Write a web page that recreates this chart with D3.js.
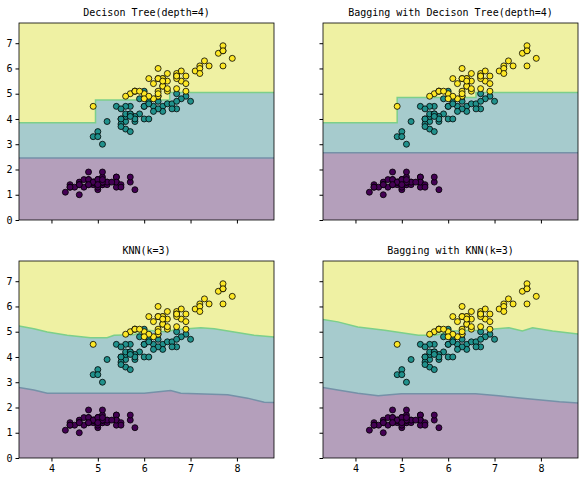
<!DOCTYPE html>
<html><head><meta charset="utf-8">
<script src="https://cdn.jsdelivr.net/npm/d3@7"></script>
<style>body{margin:0;background:#fff}text{font-family:"DejaVu Sans Mono",monospace}</style>
</head><body><svg id="c" width="584" height="480"></svg>
<script>
// iris: sepal length (x), petal length (y)
const sepal = [5.1,4.9,4.7,4.6,5.0,5.4,4.6,5.0,4.4,4.9,5.4,4.8,4.8,4.3,5.8,5.7,5.4,5.1,5.7,5.1,5.4,5.1,4.6,5.1,4.8,5.0,5.0,5.2,5.2,4.7,4.8,5.4,5.2,5.5,4.9,5.0,5.5,4.9,4.4,5.1,5.0,4.5,4.4,5.0,5.1,4.8,5.1,4.6,5.3,5.0,
  7.0,6.4,6.9,5.5,6.5,5.7,6.3,4.9,6.6,5.2,5.0,5.9,6.0,6.1,5.6,6.7,5.6,5.8,6.2,5.6,5.9,6.1,6.3,6.1,6.4,6.6,6.8,6.7,6.0,5.7,5.5,5.5,5.8,6.0,5.4,6.0,6.7,6.3,5.6,5.5,5.5,6.1,5.8,5.0,5.6,5.7,5.7,6.2,5.1,5.7,
  6.3,5.8,7.1,6.3,6.5,7.6,4.9,7.3,6.7,7.2,6.5,6.4,6.8,5.7,5.8,6.4,6.5,7.7,7.7,6.0,6.9,5.6,7.7,6.3,6.7,7.2,6.2,6.1,6.4,7.2,7.4,7.9,6.4,6.3,6.1,7.7,6.3,6.4,6.0,6.9,6.7,6.9,5.8,6.8,6.7,6.7,6.3,6.5,6.2,5.9];
const petal = [1.4,1.4,1.3,1.5,1.4,1.7,1.4,1.5,1.4,1.5,1.5,1.6,1.4,1.1,1.2,1.5,1.3,1.4,1.7,1.5,1.7,1.5,1.0,1.7,1.9,1.6,1.6,1.5,1.4,1.6,1.6,1.5,1.5,1.4,1.5,1.2,1.3,1.5,1.3,1.5,1.3,1.3,1.3,1.6,1.9,1.4,1.6,1.4,1.5,1.4,
  4.7,4.5,4.9,4.0,4.6,4.5,4.7,3.3,4.6,3.9,3.5,4.2,4.0,4.7,3.6,4.4,4.5,4.1,4.5,3.9,4.8,4.0,4.9,4.7,4.3,4.4,4.8,5.0,4.5,3.5,3.8,3.7,3.9,5.1,4.5,4.5,4.7,4.4,4.1,4.0,4.4,4.6,4.0,3.3,4.2,4.2,4.2,4.3,3.0,4.1,
  6.0,5.1,5.9,5.6,5.8,6.6,4.5,6.3,5.8,6.1,5.1,5.3,5.5,5.0,5.1,5.3,5.5,6.7,6.9,5.0,5.7,4.9,6.7,4.9,5.7,6.0,4.8,4.9,5.6,5.8,6.1,6.4,5.6,5.1,5.6,6.1,5.6,5.5,4.8,5.4,5.6,5.1,5.1,5.9,5.7,5.2,5.0,5.2,5.4,5.1];
const species = d3.range(150).map(i => Math.floor(i / 50));

const titles = ['Decison Tree(depth=4)', 'Bagging with Decison Tree(depth=4)', 'KNN(k=3)', 'Bagging with KNN(k=3)'];
// decision boundaries [x, y]: class0|class1 and class1|class2
const lowBounds = [
  [[3.3,2.45],[8.9,2.45]],
  [[3.3,2.66],[8.9,2.66]],
  [[3.3,2.79],[3.62,2.69],[3.91,2.56],[6.0,2.56],[6.57,2.67],[6.79,2.56],[7.8,2.5],[8.23,2.37],[8.59,2.21],[8.9,2.19]],
  [[3.3,2.79],[3.62,2.69],[4.05,2.56],[4.49,2.46],[4.99,2.54],[6.59,2.54],[7.09,2.46],[7.6,2.37],[8.4,2.23],[8.9,2.17]]
];
const highBounds = [
  [[3.3,3.85],[4.95,4.75],[6.55,5.05],[8.9,5.05]],
  [[3.3,3.85],[4.9,4.85],[6.6,5.05],[8.9,5.1]],
  [[3.3,5.23],[3.62,5.12],[3.91,4.99],[4.34,4.86],[4.84,4.76],[5.2,4.76],[5.35,4.86],[5.78,4.88],[6.07,5.06],[6.5,4.99],[6.65,5.08],[7.22,5.16],[7.51,5.12],[7.94,4.99],[8.37,4.86],[8.9,4.77]],
  [[3.3,5.48],[3.62,5.39],[4.05,5.19],[4.63,5.06],[5.36,4.86],[5.72,4.86],[6.08,5.03],[6.66,5.06],[7.31,5.16],[7.6,5.03],[7.82,5.16],[8.25,5.03],[8.9,4.89]]
];
const stepped = [true, true, false, false];
const xTicks = [4,5,6,7,8], yTicks = [0,1,2,3,4,5,6,7];

const viridis = ['#440154', '#21918c', '#fde725'];
const regionFill = ['#b49fbb', '#a6cbcd', '#eff1a3'];
const svg = d3.select('#c');
const panels = [[19,23],[323,23],[19,261],[323,261]];
const W = 255, H = 197;

panels.forEach(([px, py], k) => {
  const x = d3.scaleLinear().domain([3.3, 8.8]).range([0, W]);
  const y = d3.scaleLinear().domain([0, 7.8]).range([H, 0]);
  const g = svg.append('g').attr('transform', `translate(${px},${py})`);
  const clip = 'clip' + k;
  g.append('clipPath').attr('id', clip).append('rect').attr('width', W).attr('height', H);
  const curve = stepped[k] ? d3.curveStepAfter : d3.curveLinear;
  const regions = g.append('g').attr('clip-path', `url(#${clip})`);
  const lo = lowBounds[k], hi = highBounds[k];
  const area = d3.area().curve(curve).x(d => x(d[0])).y0(y(0)).y1(d => y(d[1]));
  const line = d3.line().curve(curve).x(d => x(d[0])).y(d => y(d[1]));
  regions.append('rect').attr('width', W).attr('height', H).attr('fill', regionFill[2]);
  regions.append('path').datum(hi).attr('d', area).attr('fill', regionFill[1]);
  regions.append('path').datum(lo).attr('d', area).attr('fill', regionFill[0]);
  regions.append('path').datum(hi).attr('d', line)
    .attr('fill', 'none').attr('stroke', '#7ccf8a').attr('stroke-width', 1.5);
  regions.append('path').datum(lo).attr('d', line)
    .attr('fill', 'none').attr('stroke', '#7591a8').attr('stroke-width', 1.5);

  g.append('g').selectAll('circle').data(d3.range(150)).join('circle')
    .attr('cx', i => x(sepal[i])).attr('cy', i => y(petal[i])).attr('r', 3)
    .attr('fill', i => viridis[species[i]]).attr('stroke', '#000').attr('stroke-width', 0.8);

  g.append('rect').attr('width', W).attr('height', H).attr('fill', 'none').attr('stroke', '#000').attr('stroke-width', 0.8);

  const xa = g.append('g').attr('transform', `translate(0,${H})`)
    .call(d3.axisBottom(x).tickValues(xTicks).tickSize(3.5).tickFormat(k >= 2 ? d3.format('d') : ''));
  const ya = g.append('g').call(d3.axisLeft(y).tickValues(yTicks).tickSize(3.5).tickFormat(k % 2 === 0 ? d3.format('d') : ''));
  [xa, ya].forEach(a => {
    a.select('.domain').remove();
    a.selectAll('text').attr('font-size', 10).attr('fill', '#000');
  });

  g.append('text').attr('x', W / 2).attr('y', -7).attr('text-anchor', 'middle')
    .attr('font-size', 10).text(titles[k]);
});
</script></body></html>
